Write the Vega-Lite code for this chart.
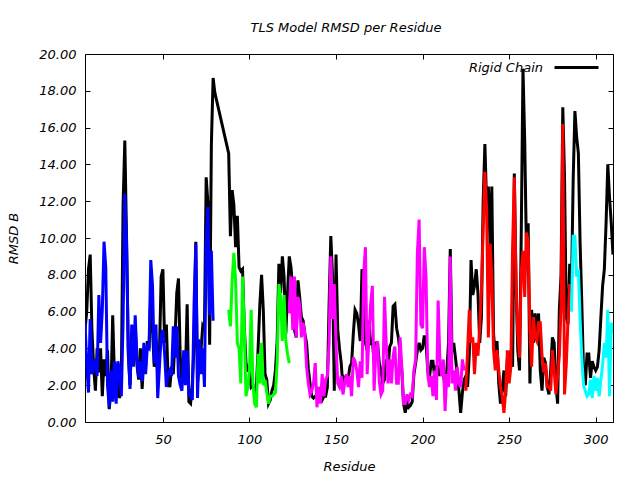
{
"$schema":"https://vega.github.io/schema/vega-lite/v6.json",
"width":528,"height":368,
"autosize":{"type":"none"},
"padding":{"left":85,"top":54,"right":27,"bottom":58},
"background":"white",
"title":{"text":"TLS Model RMSD per Residue","font":"DejaVu Sans","fontSize":13,"fontStyle":"italic","fontWeight":"normal","color":"black","offset":9,"frame":"group","dx":-3},
"config":{
 "view":{"stroke":"black","strokeWidth":1},
 "axis":{"labelFont":"DejaVu Sans","labelFontStyle":"italic","labelFontSize":13,"labelColor":"black","titleFont":"DejaVu Sans","titleFontStyle":"italic","titleFontWeight":"normal","titleFontSize":13,"titleColor":"black","tickColor":"black","tickSize":-5,"tickWidth":1,"domain":false,"grid":false,"labelOverlap":false,"labelFlush":false}
},
"datasets":{
"rigid":[
{"r":5,"v":5.0},{"r":6,"v":6.0},{"r":7,"v":8.3},{"r":8,"v":9.1},{"r":9,"v":5.0},{"r":10,"v":3.0},{"r":11,"v":1.7},{"r":12,"v":4.0},{"r":13,"v":2.7},{"r":14,"v":4.0},{"r":15,"v":1.4},{"r":16,"v":3.4},{"r":17,"v":2.5},{"r":18,"v":3.9},{"r":19,"v":0.7},{"r":20,"v":1.7},{"r":21,"v":5.8},{"r":22,"v":2.5},{"r":23,"v":1.6},{"r":24,"v":3.2},{"r":25,"v":1.3},{"r":26,"v":2.4},{"r":27,"v":11.8},{"r":28,"v":15.3},{"r":29,"v":10.0},{"r":30,"v":3.7},{"r":31,"v":2.0},{"r":32,"v":4.5},{"r":33,"v":3.5},{"r":34,"v":5.2},{"r":35,"v":3.1},{"r":36,"v":2.3},{"r":37,"v":4.0},{"r":38,"v":1.8},{"r":39,"v":3.5},{"r":40,"v":3.0},{"r":41,"v":4.4},{"r":42,"v":4.0},{"r":43,"v":7.0},{"r":44,"v":5.0},{"r":45,"v":3.0},{"r":46,"v":4.5},{"r":47,"v":2.6},{"r":48,"v":3.8},{"r":49,"v":7.9},{"r":50,"v":8.3},{"r":51,"v":4.3},{"r":52,"v":5.3},{"r":53,"v":2.3},{"r":54,"v":1.9},{"r":55,"v":3.0},{"r":56,"v":2.6},{"r":57,"v":4.5},{"r":58,"v":7.0},{"r":59,"v":7.8},{"r":60,"v":3.6},{"r":61,"v":2.1},{"r":62,"v":3.0},{"r":63,"v":2.5},{"r":64,"v":6.4},{"r":65,"v":1.1},{"r":66,"v":1.0},{"r":67,"v":2.1},{"r":68,"v":4.2},{"r":69,"v":9.8},{"r":70,"v":2.1},{"r":71,"v":3.2},{"r":72,"v":3.9},{"r":73,"v":5.2},{"r":74,"v":5.0},{"r":75,"v":13.3},{"r":76,"v":11.9},{"r":77,"v":4.2},{"r":78,"v":15.1},{"r":79,"v":18.7},{"r":80,"v":17.9},
{"r":88,"v":14.6},{"r":89,"v":10.1},{"r":90,"v":12.6},{"r":91,"v":11.8},{"r":92,"v":9.5},{"r":93,"v":11.2},{"r":94,"v":8.4},{"r":95,"v":8.2},{"r":96,"v":8.3},{"r":97,"v":5.2},{"r":98,"v":3.2},{"r":99,"v":2.8},{"r":100,"v":2.8},{"r":101,"v":1.9},{"r":102,"v":2.0},{"r":103,"v":1.5},{"r":104,"v":1.9},{"r":105,"v":4.0},{"r":106,"v":6.4},{"r":107,"v":8.0},{"r":108,"v":6.1},{"r":109,"v":2.6},{"r":110,"v":2.3},{"r":111,"v":1.0},{"r":112,"v":1.2},{"r":113,"v":1.7},{"r":114,"v":2.0},{"r":115,"v":2.8},{"r":116,"v":4.4},{"r":117,"v":8.6},{"r":118,"v":7.0},{"r":119,"v":9.0},{"r":120,"v":7.9},{"r":121,"v":4.8},{"r":122,"v":7.0},{"r":123,"v":9.0},{"r":124,"v":8.4},{"r":125,"v":7.2},{"r":126,"v":5.0},{"r":127,"v":4.6},{"r":128,"v":7.7},{"r":129,"v":6.8},{"r":130,"v":5.7},{"r":131,"v":5.5},{"r":132,"v":4.8},{"r":133,"v":4.3},{"r":134,"v":2.9},{"r":135,"v":2.1},{"r":136,"v":1.4},{"r":137,"v":1.3},{"r":138,"v":1.4},{"r":139,"v":1.4},{"r":140,"v":1.9},{"r":141,"v":1.4},{"r":142,"v":1.2},{"r":143,"v":1.4},{"r":144,"v":1.4},{"r":145,"v":1.9},{"r":146,"v":6.4},{"r":147,"v":10.1},{"r":148,"v":7.9},{"r":149,"v":1.7},{"r":150,"v":9.1},{"r":151,"v":5.0},{"r":152,"v":4.0},{"r":153,"v":3.2},{"r":154,"v":1.9},{"r":155,"v":2.4},{"r":156,"v":2.3},{"r":157,"v":2.3},{"r":158,"v":3.0},{"r":159,"v":3.2},{"r":160,"v":4.8},{"r":161,"v":6.1},{"r":162,"v":5.9},{"r":163,"v":5.3},{"r":164,"v":4.4},{"r":165,"v":8.3},{"r":166,"v":7.7},{"r":167,"v":4.3},{"r":168,"v":3.9},{"r":169,"v":5.5},{"r":170,"v":4.3},{"r":171,"v":4.4},{"r":172,"v":3.3},{"r":173,"v":4.3},{"r":174,"v":4.3},{"r":175,"v":3.2},{"r":176,"v":2.8},{"r":177,"v":2.1},{"r":178,"v":2.3},{"r":179,"v":3.4},{"r":180,"v":2.8},{"r":181,"v":4.1},{"r":182,"v":4.3},{"r":183,"v":6.3},{"r":184,"v":6.4},{"r":185,"v":5.1},{"r":186,"v":4.6},{"r":187,"v":3.8},{"r":188,"v":2.8},{"r":189,"v":1.0},{"r":190,"v":0.5},{"r":191,"v":1.2},{"r":192,"v":0.8},{"r":193,"v":0.9},{"r":194,"v":1.1},{"r":195,"v":2.6},{"r":196,"v":3.2},{"r":197,"v":3.9},{"r":198,"v":4.3},{"r":199,"v":3.9},{"r":200,"v":4.0},{"r":201,"v":4.7},{"r":202,"v":4.3},{"r":203,"v":2.8},{"r":204,"v":2.4},{"r":205,"v":3.3},{"r":206,"v":3.3},{"r":207,"v":2.4},{"r":208,"v":3.0},{"r":209,"v":3.0},{"r":210,"v":2.5},{"r":211,"v":3.0},{"r":212,"v":2.6},{"r":213,"v":1.9},{"r":214,"v":2.8},{"r":215,"v":4.3},{"r":216,"v":9.4},{"r":217,"v":3.8},{"r":218,"v":4.3},{"r":219,"v":3.5},{"r":220,"v":2.6},{"r":221,"v":1.7},{"r":222,"v":0.5},{"r":223,"v":1.6},{"r":224,"v":2.3},{"r":225,"v":2.5},{"r":226,"v":1.9},{"r":227,"v":3.7},{"r":228,"v":8.8},{"r":229,"v":6.9},{"r":230,"v":7.4},{"r":231,"v":8.3},{"r":232,"v":7.0},{"r":233,"v":4.3},{"r":234,"v":5.7},{"r":235,"v":12.0},{"r":236,"v":15.1},{"r":237,"v":11.8},{"r":238,"v":12.8},{"r":239,"v":9.6},{"r":240,"v":12.8},{"r":241,"v":4.8},{"r":242,"v":3.6},{"r":243,"v":4.4},{"r":244,"v":2.1},{"r":245,"v":1.0},{"r":246,"v":1.7},{"r":247,"v":2.8},{"r":248,"v":1.4},{"r":249,"v":3.4},{"r":250,"v":2.5},{"r":251,"v":3.9},{"r":252,"v":3.0},{"r":253,"v":13.5},{"r":254,"v":7.5},{"r":255,"v":3.9},{"r":256,"v":2.8},{"r":257,"v":10.2},{"r":258,"v":19.2},{"r":259,"v":15.3},{"r":260,"v":9.3},{"r":261,"v":10.8},{"r":262,"v":2.1},{"r":263,"v":6.1},{"r":264,"v":4.3},{"r":265,"v":5.9},{"r":266,"v":4.8},{"r":267,"v":5.9},{"r":268,"v":2.8},{"r":269,"v":1.7},{"r":270,"v":3.5},{"r":271,"v":3.2},{"r":272,"v":1.9},{"r":273,"v":1.5},{"r":274,"v":2.8},{"r":275,"v":4.6},{"r":276,"v":4.3},{"r":277,"v":2.1},{"r":278,"v":1.0},{"r":279,"v":6.1},{"r":280,"v":8.0},{"r":281,"v":17.1},{"r":282,"v":13.3},{"r":283,"v":5.7},{"r":284,"v":5.3},{"r":285,"v":8.6},{"r":286,"v":7.2},{"r":287,"v":13.2},{"r":288,"v":16.9},{"r":289,"v":15.5},{"r":290,"v":14.6},{"r":291,"v":9.7},{"r":292,"v":6.4},{"r":293,"v":2.6},{"r":294,"v":2.0},{"r":295,"v":3.7},{"r":296,"v":3.7},{"r":297,"v":2.4},{"r":298,"v":3.3},{"r":299,"v":3.0},{"r":300,"v":2.8},{"r":301,"v":3.0},{"r":302,"v":3.9},{"r":303,"v":5.7},{"r":304,"v":7.4},{"r":305,"v":8.3},{"r":306,"v":10.8},{"r":307,"v":14.0},{"r":308,"v":12.2},{"r":309,"v":10.8},{"r":310,"v":9.1}
],
"tls":[
{"r":5,"v":5.4,"g":"b"},{"r":6,"v":3.2,"g":"b"},{"r":7,"v":1.6,"g":"b"},{"r":8,"v":5.6,"g":"b"},{"r":9,"v":2.6,"g":"b"},{"r":10,"v":3.0,"g":"b"},{"r":11,"v":3.4,"g":"b"},{"r":12,"v":2.5,"g":"b"},{"r":13,"v":6.9,"g":"b"},{"r":14,"v":4.3,"g":"b"},{"r":15,"v":6.1,"g":"b"},{"r":16,"v":9.8,"g":"b"},{"r":17,"v":8.4,"g":"b"},{"r":18,"v":2.0,"g":"b"},{"r":19,"v":0.8,"g":"b"},{"r":20,"v":2.8,"g":"b"},{"r":21,"v":1.1,"g":"b"},{"r":22,"v":3.3,"g":"b"},{"r":23,"v":1.0,"g":"b"},{"r":24,"v":3.3,"g":"b"},{"r":25,"v":2.7,"g":"b"},{"r":26,"v":1.4,"g":"b"},{"r":27,"v":5.5,"g":"b"},{"r":28,"v":12.4,"g":"b"},{"r":29,"v":9.8,"g":"b"},{"r":30,"v":4.0,"g":"b"},{"r":31,"v":1.8,"g":"b"},{"r":32,"v":5.3,"g":"b"},{"r":33,"v":3.0,"g":"b"},{"r":34,"v":5.8,"g":"b"},{"r":35,"v":3.5,"g":"b"},{"r":36,"v":2.4,"g":"b"},{"r":37,"v":3.3,"g":"b"},{"r":38,"v":2.2,"g":"b"},{"r":39,"v":4.3,"g":"b"},{"r":40,"v":2.6,"g":"b"},{"r":41,"v":4.1,"g":"b"},{"r":42,"v":4.0,"g":"b"},{"r":43,"v":8.8,"g":"b"},{"r":44,"v":7.4,"g":"b"},{"r":45,"v":3.2,"g":"b"},{"r":46,"v":5.3,"g":"b"},{"r":47,"v":1.3,"g":"b"},{"r":48,"v":3.0,"g":"b"},{"r":49,"v":4.7,"g":"b"},{"r":50,"v":5.0,"g":"b"},{"r":51,"v":3.7,"g":"b"},{"r":52,"v":1.9,"g":"b"},{"r":53,"v":2.6,"g":"b"},{"r":54,"v":2.8,"g":"b"},{"r":55,"v":2.5,"g":"b"},{"r":56,"v":5.2,"g":"b"},{"r":57,"v":3.5,"g":"b"},{"r":58,"v":5.2,"g":"b"},{"r":59,"v":2.5,"g":"b"},{"r":60,"v":2.0,"g":"b"},{"r":61,"v":1.7,"g":"b"},{"r":62,"v":3.9,"g":"b"},{"r":63,"v":2.0,"g":"b"},{"r":64,"v":3.9,"g":"b"},{"r":65,"v":1.5,"g":"b"},{"r":66,"v":1.4,"g":"b"},{"r":67,"v":1.2,"g":"b"},{"r":68,"v":6.4,"g":"b"},{"r":69,"v":9.7,"g":"b"},{"r":70,"v":1.3,"g":"b"},{"r":71,"v":4.5,"g":"b"},{"r":72,"v":2.6,"g":"b"},{"r":73,"v":4.0,"g":"b"},{"r":74,"v":1.9,"g":"b"},{"r":75,"v":9.7,"g":"b"},{"r":76,"v":11.7,"g":"b"},{"r":77,"v":5.8,"g":"b"},{"r":78,"v":9.3,"g":"b"},{"r":79,"v":5.5,"g":"b"},
{"r":88,"v":6.1,"g":"g"},{"r":89,"v":5.2,"g":"g"},{"r":90,"v":7.7,"g":"g"},{"r":91,"v":9.2,"g":"g"},{"r":92,"v":7.7,"g":"g"},{"r":93,"v":4.3,"g":"g"},{"r":94,"v":4.0,"g":"g"},{"r":95,"v":2.1,"g":"g"},{"r":96,"v":7.9,"g":"g"},{"r":97,"v":5.2,"g":"g"},{"r":98,"v":1.4,"g":"g"},{"r":99,"v":1.9,"g":"g"},{"r":100,"v":2.8,"g":"g"},{"r":101,"v":6.1,"g":"g"},{"r":102,"v":2.1,"g":"g"},{"r":103,"v":1.0,"g":"g"},{"r":104,"v":0.8,"g":"g"},{"r":105,"v":3.7,"g":"g"},{"r":106,"v":2.1,"g":"g"},{"r":107,"v":4.3,"g":"g"},{"r":108,"v":2.0,"g":"g"},{"r":109,"v":2.3,"g":"g"},{"r":110,"v":1.6,"g":"g"},{"r":111,"v":1.0,"g":"g"},{"r":112,"v":1.4,"g":"g"},{"r":113,"v":1.4,"g":"g"},{"r":114,"v":1.5,"g":"g"},{"r":115,"v":1.6,"g":"g"},{"r":116,"v":3.2,"g":"g"},{"r":117,"v":7.5,"g":"g"},{"r":118,"v":6.8,"g":"g"},{"r":119,"v":4.4,"g":"g"},{"r":120,"v":6.9,"g":"g"},{"r":121,"v":4.4,"g":"g"},{"r":122,"v":3.7,"g":"g"},{"r":123,"v":3.2,"g":"g"},
{"r":123,"v":5.9,"g":"m"},{"r":124,"v":7.9,"g":"m"},{"r":125,"v":5.0,"g":"m"},{"r":126,"v":7.9,"g":"m"},{"r":127,"v":4.6,"g":"m"},{"r":128,"v":6.8,"g":"m"},{"r":129,"v":6.4,"g":"m"},{"r":130,"v":4.6,"g":"m"},{"r":131,"v":5.4,"g":"m"},{"r":132,"v":4.8,"g":"m"},{"r":133,"v":3.0,"g":"m"},{"r":134,"v":2.1,"g":"m"},{"r":135,"v":1.5,"g":"m"},{"r":136,"v":1.7,"g":"m"},{"r":137,"v":2.1,"g":"m"},{"r":138,"v":3.2,"g":"m"},{"r":139,"v":0.8,"g":"m"},{"r":140,"v":1.9,"g":"m"},{"r":141,"v":1.0,"g":"m"},{"r":142,"v":2.6,"g":"m"},{"r":143,"v":1.4,"g":"m"},{"r":144,"v":2.3,"g":"m"},{"r":145,"v":2.5,"g":"m"},{"r":146,"v":4.3,"g":"m"},{"r":147,"v":9.0,"g":"m"},{"r":148,"v":5.6,"g":"m"},{"r":149,"v":7.5,"g":"m"},{"r":150,"v":4.3,"g":"m"},{"r":151,"v":2.1,"g":"m"},{"r":152,"v":1.9,"g":"m"},{"r":153,"v":2.5,"g":"m"},{"r":154,"v":1.5,"g":"m"},{"r":155,"v":2.1,"g":"m"},{"r":156,"v":2.6,"g":"m"},{"r":157,"v":1.9,"g":"m"},{"r":158,"v":2.5,"g":"m"},{"r":159,"v":1.4,"g":"m"},{"r":160,"v":3.5,"g":"m"},{"r":161,"v":3.3,"g":"m"},{"r":162,"v":2.8,"g":"m"},{"r":163,"v":1.9,"g":"m"},{"r":164,"v":3.3,"g":"m"},{"r":165,"v":2.4,"g":"m"},{"r":166,"v":8.1,"g":"m"},{"r":167,"v":9.5,"g":"m"},{"r":168,"v":2.6,"g":"m"},{"r":169,"v":4.6,"g":"m"},{"r":170,"v":6.4,"g":"m"},{"r":171,"v":7.4,"g":"m"},{"r":172,"v":1.7,"g":"m"},{"r":173,"v":3.9,"g":"m"},{"r":174,"v":4.4,"g":"m"},{"r":175,"v":2.2,"g":"m"},{"r":176,"v":1.5,"g":"m"},{"r":177,"v":1.7,"g":"m"},{"r":178,"v":6.8,"g":"m"},{"r":179,"v":4.3,"g":"m"},{"r":180,"v":2.1,"g":"m"},{"r":181,"v":3.4,"g":"m"},{"r":182,"v":2.1,"g":"m"},{"r":183,"v":3.6,"g":"m"},{"r":184,"v":4.1,"g":"m"},{"r":185,"v":2.1,"g":"m"},{"r":186,"v":2.1,"g":"m"},{"r":187,"v":4.6,"g":"m"},{"r":188,"v":3.0,"g":"m"},{"r":189,"v":1.0,"g":"m"},{"r":190,"v":1.0,"g":"m"},{"r":191,"v":1.5,"g":"m"},{"r":192,"v":1.2,"g":"m"},{"r":193,"v":1.5,"g":"m"},{"r":194,"v":1.4,"g":"m"},{"r":195,"v":2.8,"g":"m"},{"r":196,"v":3.4,"g":"m"},{"r":197,"v":9.2,"g":"m"},{"r":198,"v":11.0,"g":"m"},{"r":199,"v":5.3,"g":"m"},{"r":200,"v":5.1,"g":"m"},{"r":201,"v":9.5,"g":"m"},{"r":202,"v":7.9,"g":"m"},{"r":203,"v":2.6,"g":"m"},{"r":204,"v":1.9,"g":"m"},{"r":205,"v":2.5,"g":"m"},{"r":206,"v":1.4,"g":"m"},{"r":207,"v":2.8,"g":"m"},{"r":208,"v":1.2,"g":"m"},{"r":209,"v":6.6,"g":"m"},{"r":210,"v":3.4,"g":"m"},{"r":211,"v":2.5,"g":"m"},{"r":212,"v":3.4,"g":"m"},{"r":213,"v":0.6,"g":"m"},{"r":214,"v":2.6,"g":"m"},{"r":215,"v":1.9,"g":"m"},{"r":216,"v":9.0,"g":"m"},{"r":217,"v":2.1,"g":"m"},{"r":218,"v":2.8,"g":"m"},{"r":219,"v":1.7,"g":"m"},{"r":220,"v":3.0,"g":"m"},{"r":221,"v":2.1,"g":"m"},{"r":222,"v":1.9,"g":"m"},{"r":223,"v":3.4,"g":"m"},{"r":224,"v":2.8,"g":"m"},
{"r":225,"v":1.7,"g":"r"},{"r":226,"v":3.9,"g":"r"},{"r":227,"v":6.1,"g":"r"},{"r":228,"v":4.3,"g":"r"},{"r":229,"v":4.6,"g":"r"},{"r":230,"v":2.6,"g":"r"},{"r":231,"v":4.3,"g":"r"},{"r":232,"v":3.6,"g":"r"},{"r":233,"v":5.1,"g":"r"},{"r":234,"v":7.2,"g":"r"},{"r":235,"v":10.4,"g":"r"},{"r":236,"v":13.6,"g":"r"},{"r":237,"v":11.5,"g":"r"},{"r":238,"v":4.6,"g":"r"},{"r":239,"v":9.7,"g":"r"},{"r":240,"v":7.9,"g":"r"},{"r":241,"v":3.9,"g":"r"},{"r":242,"v":2.8,"g":"r"},{"r":243,"v":3.9,"g":"r"},{"r":244,"v":2.8,"g":"r"},{"r":245,"v":1.9,"g":"r"},{"r":246,"v":1.4,"g":"r"},{"r":247,"v":0.5,"g":"r"},{"r":248,"v":1.7,"g":"r"},{"r":249,"v":3.9,"g":"r"},{"r":250,"v":2.1,"g":"r"},{"r":251,"v":3.0,"g":"r"},{"r":252,"v":9.5,"g":"r"},{"r":253,"v":13.3,"g":"r"},{"r":254,"v":7.5,"g":"r"},{"r":255,"v":4.8,"g":"r"},{"r":256,"v":3.5,"g":"r"},{"r":257,"v":8.2,"g":"r"},{"r":258,"v":9.3,"g":"r"},{"r":259,"v":6.8,"g":"r"},{"r":260,"v":10.3,"g":"r"},{"r":261,"v":9.8,"g":"r"},{"r":262,"v":5.0,"g":"r"},{"r":263,"v":3.0,"g":"r"},{"r":264,"v":5.7,"g":"r"},{"r":265,"v":4.6,"g":"r"},{"r":266,"v":4.4,"g":"r"},{"r":267,"v":5.4,"g":"r"},{"r":268,"v":5.4,"g":"r"},{"r":269,"v":3.6,"g":"r"},{"r":270,"v":2.7,"g":"r"},{"r":271,"v":3.2,"g":"r"},{"r":272,"v":1.9,"g":"r"},{"r":273,"v":1.9,"g":"r"},{"r":274,"v":1.7,"g":"r"},{"r":275,"v":3.9,"g":"r"},{"r":276,"v":2.8,"g":"r"},{"r":277,"v":1.5,"g":"r"},{"r":278,"v":2.5,"g":"r"},{"r":279,"v":3.6,"g":"r"},{"r":280,"v":6.3,"g":"r"},{"r":281,"v":16.2,"g":"r"},{"r":282,"v":1.5,"g":"r"},{"r":283,"v":3.1,"g":"r"},{"r":284,"v":5.5,"g":"r"},{"r":285,"v":7.5,"g":"r"},
{"r":286,"v":6.0,"g":"c"},{"r":287,"v":10.1,"g":"c"},{"r":288,"v":10.1,"g":"c"},{"r":289,"v":7.9,"g":"c"},{"r":290,"v":8.3,"g":"c"},{"r":291,"v":5.6,"g":"c"},{"r":292,"v":3.4,"g":"c"},{"r":293,"v":2.0,"g":"c"},{"r":294,"v":1.7,"g":"c"},{"r":295,"v":1.4,"g":"c"},{"r":296,"v":1.5,"g":"c"},{"r":297,"v":2.3,"g":"c"},{"r":298,"v":1.3,"g":"c"},{"r":299,"v":2.5,"g":"c"},{"r":300,"v":1.7,"g":"c"},{"r":301,"v":2.4,"g":"c"},{"r":302,"v":1.4,"g":"c"},{"r":303,"v":2.3,"g":"c"},{"r":304,"v":3.1,"g":"c"},{"r":305,"v":4.3,"g":"c"},{"r":306,"v":3.5,"g":"c"},{"r":307,"v":6.1,"g":"c"},{"r":308,"v":1.4,"g":"c"},{"r":309,"v":5.4,"g":"c"},{"r":310,"v":4.8,"g":"c"}
]
},
"layer":[
{"data":{"name":"rigid"},
 "mark":{"type":"line","strokeWidth":3,"clip":true},
 "encoding":{
  "x":{"field":"r","type":"quantitative","scale":{"domain":[5,310],"nice":false,"zero":false},
       "axis":{"orient":"bottom","values":[50,100,150,200,250,300],"title":"Residue","labelPadding":16,"titlePadding":14}},
  "y":{"field":"v","type":"quantitative","scale":{"domain":[0,20],"nice":false},
       "axis":{"orient":"left","values":[0,2,4,6,8,10,12,14,16,18,20],"format":".2f","title":"RMSD B","labelPadding":14,"titlePadding":18}},
  "color":{"datum":"Rigid Chain","type":"nominal","scale":{"range":["black"]},
       "legend":{"orient":"none","legendX":468,"legendY":-10,"padding":0,"title":null,"symbolType":"stroke","symbolSize":1936,"symbolStrokeWidth":3,"labelAlign":"right","labelOffset":-57,"labelFont":"DejaVu Sans","labelFontSize":13,"labelFontStyle":"italic","labelColor":"black"}}
 }},
{"data":{"name":"tls"},
 "mark":{"type":"line","strokeWidth":3,"clip":true},
 "encoding":{
  "x":{"field":"r","type":"quantitative","axis":{"orient":"top","values":[50,100,150,200,250,300],"labels":false,"title":null}},
  "y":{"field":"v","type":"quantitative","axis":{"orient":"right","values":[0,2,4,6,8,10,12,14,16,18,20],"labels":false,"title":null}},
  "color":{"field":"g","type":"nominal","scale":{"domain":["b","g","m","r","c"],"range":["#0000ff","#00ff00","#ff00ff","#ff0000","#00ffff"]},"legend":null}
 }}
],
"resolve":{"scale":{"color":"independent"},"axis":{"x":"independent","y":"independent"}}
}
